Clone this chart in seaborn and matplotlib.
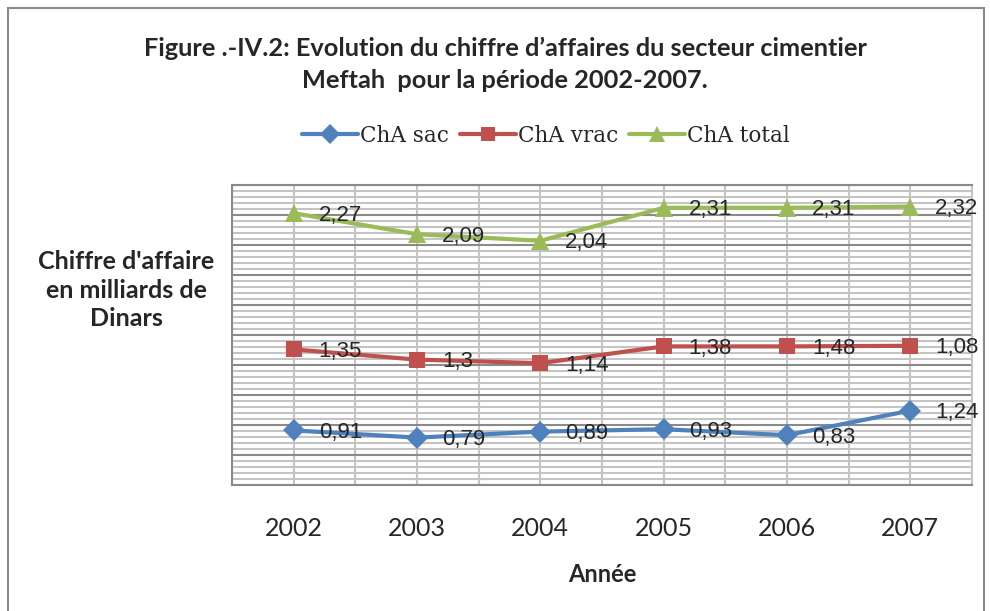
import numpy as np
import pandas as pd
import matplotlib
matplotlib.use("Agg")
import matplotlib.pyplot as plt
from matplotlib.lines import Line2D
from matplotlib.patches import Rectangle
from matplotlib.ticker import MultipleLocator
import seaborn as sns

# --- data -------------------------------------------------------------
years = ["2002", "2003", "2004", "2005", "2006", "2007"]
series_names = ["ChA sac", "ChA vrac", "ChA total"]
cha_sac = [0.91, 0.79, 0.89, 0.93, 0.83, 1.24]
cha_vrac = [1.35, 1.30, 1.14, 1.38, 1.48, 1.08]
cha_total = [2.27, 2.09, 2.04, 2.31, 2.31, 2.32]

colors = {"ChA sac": "#4F81BD", "ChA vrac": "#C0504D", "ChA total": "#9BBB59"}
markers = {"ChA sac": "D", "ChA vrac": "s", "ChA total": "^"}
msizes = {"ChA sac": 11, "ChA vrac": 11, "ChA total": 13}

# stacked line chart: each series sits on top of the previous ones
values = np.array([cha_sac, cha_vrac, cha_total])
stacked = np.cumsum(values, axis=0)

rows = []
for i, name in enumerate(series_names):
    for j, yr in enumerate(years):
        rows.append({"pos": j, "year": yr, "series": name,
                     "value": values[i, j], "stacked": stacked[i, j]})
df = pd.DataFrame(rows)

sns.set_style("white")
plt.rcParams["font.family"] = ["Lato", "DejaVu Sans"]

W, H = 990, 611
fig = plt.figure(figsize=(W / 100, H / 100), dpi=100)
ax = fig.add_axes([232 / W, (H - 485) / H, 740 / W, 300 / H])

for name in series_names:
    sub = df[df["series"] == name]
    sns.lineplot(data=sub, x="pos", y="stacked", ax=ax, color=colors[name],
                 marker=markers[name], markersize=msizes[name],
                 markeredgewidth=0, linewidth=3, legend=False, zorder=3)

ax.set_xlim(-0.5, 5.5)
ax.set_ylim(0, 5)

# grid: dark major lines every 0.5, light minor lines every 0.1
ax.yaxis.set_major_locator(MultipleLocator(0.5))
ax.yaxis.set_minor_locator(MultipleLocator(0.1))
ax.set_xticks(range(len(years)))
ax.set_xticklabels(years)
ax.set_xticks(np.arange(-0.5, 5.51, 1), minor=True)
ax.grid(which="minor", axis="y", color="#c4c4c4", lw=1.5, zorder=0)
ax.grid(which="major", axis="y", color="#8a8a8a", lw=1.5, zorder=1)
ax.grid(which="both", axis="x", color="#c4c4c4", lw=1.5, zorder=0)
ax.set_axisbelow(True)

ax.tick_params(axis="y", which="both", length=0, labelleft=False)
ax.tick_params(axis="x", which="major", length=0, pad=23, labelsize=18)
ax.tick_params(axis="x", which="minor", length=7, width=1.5, color="#8a8a8a",
               direction="out")
ax.set_xlabel("")
ax.set_ylabel("")

for side in ["left", "bottom", "top"]:
    ax.spines[side].set_color("#8a8a8a")
    ax.spines[side].set_linewidth(1.5)
ax.spines["right"].set_color("#c4c4c4")
ax.spines["right"].set_linewidth(1.5)


def fmt(v):
    s = f"{v:.2f}".rstrip("0").rstrip(".")
    return s.replace(".", ",")


# value labels, to the right of each point
for _, r in df.iterrows():
    ax.annotate(fmt(r["value"]), (r["pos"], r["stacked"]),
                xytext=(18, -1.5), textcoords="offset points",
                ha="left", va="center", fontsize=16,
                family=["Liberation Sans", "DejaVu Sans"], zorder=5,
                annotation_clip=False)

# titles and axis captions
fig.text(505 / W, 1 - 48 / H,
         "Figure .-IV.2: Evolution du chiffre d\u2019affaires du secteur cimentier",
         ha="center", va="center", fontsize=18.3, fontweight="bold")
fig.text(505 / W, 1 - 80 / H, "Meftah  pour la p\u00e9riode 2002-2007.",
         ha="center", va="center", fontsize=18.3, fontweight="bold")
fig.text(602 / W, 1 - 575 / H, "Ann\u00e9e", ha="center", va="center",
         fontsize=17, fontweight="bold")
fig.text(126 / W, 1 - 290 / H, "Chiffre d'affaire\nen milliards de\nDinars",
         ha="center", va="center", multialignment="center", fontsize=18,
         fontweight="bold", linespacing=1.3)

# legend
handles = [Line2D([], [], color=colors[n], marker=markers[n], lw=3,
                  markersize=msizes[n] - 1, markeredgewidth=0)
           for n in series_names]
fig.legend(handles, series_names, loc="center", ncol=3,
           bbox_to_anchor=(546 / W, 1 - 136 / H), frameon=False,
           prop={"family": ["DejaVu Serif"], "size": 15.5},
           handlelength=2.6, handletextpad=0.1, columnspacing=0.5)

# outer frame
fig.patches.append(Rectangle((8 / W, -0.05), (984 - 8) / W, 1.05 - 8 / H,
                             transform=fig.transFigure, fill=False,
                             ec="#8a8a8a", lw=1.5))

fig.savefig("out.png", dpi=100)
